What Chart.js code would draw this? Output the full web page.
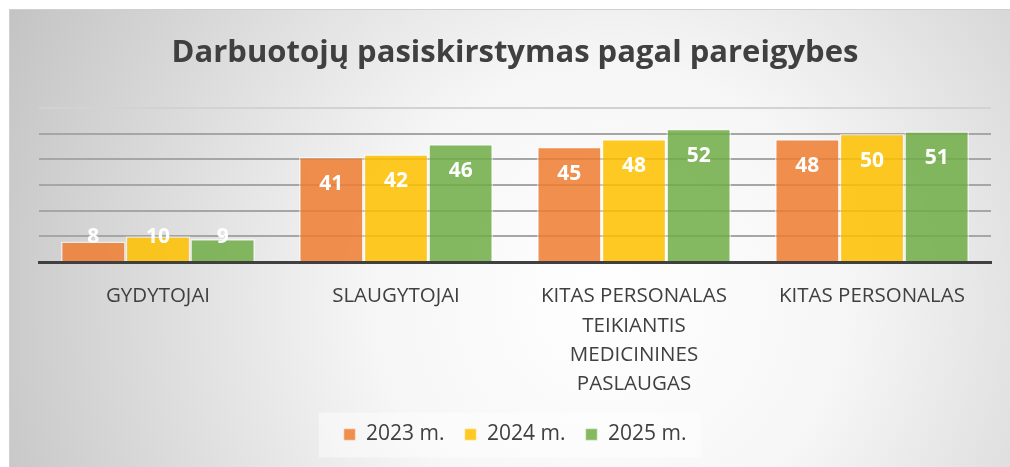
<!DOCTYPE html>
<html>
<head>
<meta charset="utf-8">
<script src="https://cdn.jsdelivr.net/npm/chart.js@4.4.1/dist/chart.umd.min.js"></script>
<style>
  html, body { margin: 0; padding: 0; background: #fff; }
  #wrap { width: 1010px; height: 467px; position: relative; }
</style>
</head>
<body>
<div id="wrap"><canvas id="chart"></canvas></div>
<script>
// Duomenys
const kategorijos = [
    ['GYDYTOJAI'],
    ['SLAUGYTOJAI'],
    ['KITAS PERSONALAS', 'TEIKIANTIS', 'MEDICININES', 'PASLAUGAS'],
    ['KITAS PERSONALAS']
];
const metai2023 = [8, 41, 45, 48];
const metai2024 = [10, 42, 48, 50];
const metai2025 = [9, 46, 52, 51];
const yTicks = [0, 10, 20, 30, 40, 50, 60];

const tekstoSpalva = '#404040';
const sriftas = '"Open Sans", Lato, sans-serif';

// fonas su radialiniu gradientu
const fonoPlugin = {
    id: 'fonas',
    beforeDraw(chart) {
        const ctx = chart.ctx;
        const w = chart.width, h = chart.height;
        ctx.save();
        ctx.fillStyle = '#ffffff';
        ctx.fillRect(0, 0, w, h);
        const g = ctx.createRadialGradient(610, 300, 0, 610, 300, 680);
        g.addColorStop(0, '#ffffff');
        g.addColorStop(0.35, '#f6f6f6');
        g.addColorStop(1, '#c2c2c2');
        ctx.fillStyle = g;
        ctx.fillRect(9, 9, w - 9, h - 9);
        ctx.strokeStyle = '#d0d0d0';
        ctx.lineWidth = 1;
        ctx.strokeRect(9.5, 9.5, w, h);

        // šviesus stačiakampis po legenda
        const lg = chart.legend;
        if (lg && lg.legendHitBoxes && lg.legendHitBoxes.length) {
            const boxes = lg.legendHitBoxes;
            const x0 = Math.min(...boxes.map(b => b.left)) - 25;
            const x1 = Math.max(...boxes.map(b => b.left + b.width)) + 15;
            const yc = boxes[0].top + boxes[0].height / 2;
            ctx.fillStyle = 'rgba(255,255,255,0.45)';
            ctx.fillRect(x0, yc - 22, x1 - x0, 45);
        }
        ctx.restore();
    }
};

// reikšmės ant stulpelių
const etikeciuPlugin = {
    id: 'etiketes',
    afterDatasetsDraw(chart) {
        const ctx = chart.ctx;
        const bazė = chart.scales.y.getPixelForValue(0);
        ctx.save();
        ctx.fillStyle = '#ffffff';
        ctx.font = 'bold 21px ' + sriftas;
        ctx.textAlign = 'center';
        ctx.textBaseline = 'middle';
        chart.data.datasets.forEach((ds, i) => {
            chart.getDatasetMeta(i).data.forEach((bar, j) => {
                const y = Math.min(bar.y + 27, bazė - 25);
                ctx.fillText(String(ds.data[j]), bar.x, y);
            });
        });
        ctx.restore();
    }
};

new Chart(document.getElementById('chart'), {
    type: 'bar',
    data: {
        labels: kategorijos,
        datasets: [
            { label: '2023 m.', data: metai2023, backgroundColor: 'rgba(237,125,49,0.86)' },
            { label: '2024 m.', data: metai2024, backgroundColor: 'rgba(255,192,0,0.86)' },
            { label: '2025 m.', data: metai2025, backgroundColor: 'rgba(112,173,71,0.86)' }
        ].map(d => Object.assign(d, {
            borderColor: 'rgba(255,255,255,0.55)',
            borderWidth: 1.5,
            categoryPercentage: 0.815,
            barPercentage: 1
        }))
    },
    options: {
        responsive: true,
        maintainAspectRatio: false,
        animation: false,
        layout: { padding: { left: 39, right: 19, top: 9, bottom: 12 } },
        plugins: {
            title: {
                display: true,
                text: 'Darbuotojų pasiskirstymas pagal pareigybes',
                color: tekstoSpalva,
                font: { family: sriftas, size: 31, weight: 'bold' },
                padding: { top: 26, bottom: 36 }
            },
            legend: {
                position: 'bottom',
                labels: {
                    color: tekstoSpalva,
                    font: { family: sriftas, size: 21 },
                    boxWidth: 12,
                    boxHeight: 12,
                    padding: 20
                }
            },
            tooltip: { enabled: false }
        },
        scales: {
            x: {
                grid: { display: false },
                border: { display: true, color: '#404040', width: 3 },
                ticks: {
                    color: tekstoSpalva,
                    font: { family: sriftas, size: 20.5, lineHeight: 1.42 },
                    padding: 12,
                    maxRotation: 0,
                    autoSkip: false
                },
                afterFit(scale) { scale.height = 142; }
            },
            y: {
                min: 0,
                max: 60,
                afterBuildTicks(scale) { scale.ticks = yTicks.map(v => ({ value: v })); },
                ticks: { display: false },
                border: { display: false },
                grid: {
                    color: ctx => ctx.tick.value === 60 ? '#d2d2d2' : '#a6a6a6',
                    lineWidth: 2,
                    drawTicks: false
                },
                afterFit(scale) { scale.width = 0; }
            }
        }
    },
    plugins: [fonoPlugin, etikeciuPlugin]
});
</script>
</body>
</html>
